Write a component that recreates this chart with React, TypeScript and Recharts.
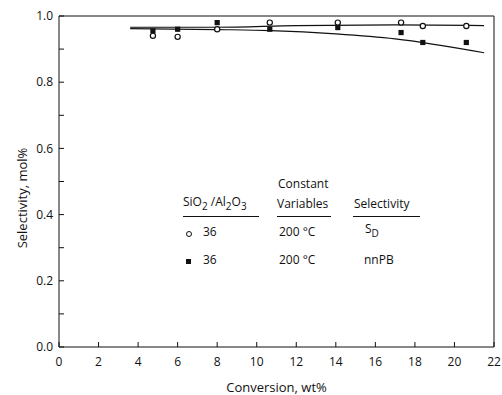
import React from 'react';
import {
  ComposedChart,
  Line,
  Scatter,
  XAxis,
  YAxis,
  ReferenceLine,
} from 'recharts';

const conversion = [4.75, 6.0, 8.0, 10.66, 14.1, 17.3, 18.4, 20.6];
const sdValues = [0.94, 0.937, 0.96, 0.98, 0.98, 0.98, 0.97, 0.97];
const nnpbValues = [0.955, 0.96, 0.98, 0.96, 0.965, 0.95, 0.92, 0.92];

// hand-drawn trend curves
const sdCurveX = [3.6, 8, 12, 17, 21.5];
const sdCurveY = [0.966, 0.966, 0.971, 0.973, 0.971];
const nnpbCurveX = [3.6, 8, 10.7, 14, 17, 21.5];
const nnpbCurveY = [0.962, 0.959, 0.956, 0.946, 0.931, 0.889];

const xTicks = [0, 2, 4, 6, 8, 10, 12, 14, 16, 18, 20, 22];
const yTicks = [0, 0.1, 0.2, 0.3, 0.4, 0.5, 0.6, 0.7, 0.8, 0.9, 1.0];
const yLabelled = [0, 0.2, 0.4, 0.6, 0.8, 1.0];

const pair = (xs: number[], ys: number[]) => xs.map((x, i) => ({ x, y: ys[i] }));

const sdPoints = pair(conversion, sdValues);
const nnpbPoints = pair(conversion, nnpbValues);
const sdCurve = pair(sdCurveX, sdCurveY);
const nnpbCurve = pair(nnpbCurveX, nnpbCurveY);

const FONT = '"Open Sans", "DejaVu Sans", sans-serif';
const INK = '#111';
const tickStyle = { fontSize: 12, fill: INK, fontFamily: FONT };

function OpenCircle(props: any) {
  const { cx, cy } = props;
  return <circle cx={cx} cy={cy} r={2.6} fill="#fff" stroke={INK} strokeWidth={1.2} />;
}

function FilledSquare(props: any) {
  const { cx, cy } = props;
  return <rect x={cx - 2.6} y={cy - 2.6} width={5.2} height={5.2} fill={INK} />;
}

function LegendTable() {
  const cell = (left: number, top: number, content: React.ReactNode) => (
    <div style={{ position: 'absolute', left, top, fontSize: 12, lineHeight: 1, whiteSpace: 'nowrap' }}>
      {content}
    </div>
  );
  const rule = (left: number, width: number) => (
    <div style={{ position: 'absolute', left, top: 216, width, height: 1.2, background: INK }} />
  );
  const sub = { fontSize: 10, verticalAlign: -4 } as const;
  return (
    <div style={{ position: 'absolute', left: 0, top: 0, fontFamily: FONT, color: INK, pointerEvents: 'none' }}>
      {cell(278, 178, 'Constant')}
      {cell(183, 196, <span>SiO<span style={sub}>2</span> /Al<span style={sub}>2</span>O<span style={sub}>3</span></span>)}
      {cell(277, 198, 'Variables')}
      {cell(354, 198, 'Selectivity')}
      {rule(183, 76)}
      {rule(277, 54)}
      {rule(353, 67)}
      <div style={{ position: 'absolute', left: 186, top: 231, width: 4, height: 4, borderRadius: '50%', border: `1px solid ${INK}` }} />
      {cell(203, 226, '36')}
      {cell(279, 226, '200 °C')}
      {cell(365, 223, <span>S<span style={sub}>D</span></span>)}
      <div style={{ position: 'absolute', left: 186, top: 259, width: 5, height: 5, background: INK }} />
      {cell(203, 254, '36')}
      {cell(279, 254, '200 °C')}
      {cell(364, 254, 'nnPB')}
    </div>
  );
}

export default function App() {
  return (
    <div style={{ position: 'absolute', left: 0, top: 0, width: 502, height: 395, background: '#fff' }}>
      <ComposedChart width={502} height={395} margin={{ top: 16, right: 8, bottom: 0, left: 0 }}>
        <XAxis
          type="number"
          dataKey="x"
          domain={[0, 22]}
          ticks={xTicks}
          interval={0}
          tick={tickStyle}
          tickSize={-5}
          tickMargin={15}
          stroke={INK}
          height={48}
          label={{
            value: 'Conversion,  wt%',
            position: 'insideBottom',
            offset: 3,
            style: { fontSize: 13, fill: INK, fontFamily: FONT },
          }}
        />
        <YAxis
          type="number"
          dataKey="y"
          domain={[0, 1]}
          ticks={yTicks}
          interval={0}
          tickFormatter={(v: number) => (yLabelled.some((t) => Math.abs(t - v) < 1e-6) ? v.toFixed(1) : '')}
          tick={tickStyle}
          tickSize={-5}
          tickMargin={11}
          stroke={INK}
          width={59}
          label={{
            content: () => (
              <text
                x={0}
                y={0}
                transform="translate(22,198) rotate(-90)"
                textAnchor="middle"
                dominantBaseline="central"
                style={{ fontSize: 13, fill: INK, fontFamily: FONT }}
              >
                Selectivity, mol%
              </text>
            ),
          }}
        />
        <ReferenceLine y={1} stroke={INK} />
        <ReferenceLine x={22} stroke={INK} />
        <Line
          data={sdCurve}
          dataKey="y"
          type="monotone"
          stroke={INK}
          strokeWidth={1.2}
          dot={false}
          isAnimationActive={false}
        />
        <Line
          data={nnpbCurve}
          dataKey="y"
          type="monotone"
          stroke={INK}
          strokeWidth={1.2}
          dot={false}
          isAnimationActive={false}
        />
        <Scatter data={nnpbPoints} dataKey="y" shape={<FilledSquare />} isAnimationActive={false} />
        <Scatter data={sdPoints} dataKey="y" shape={<OpenCircle />} isAnimationActive={false} />
      </ComposedChart>
      <LegendTable />
    </div>
  );
}
